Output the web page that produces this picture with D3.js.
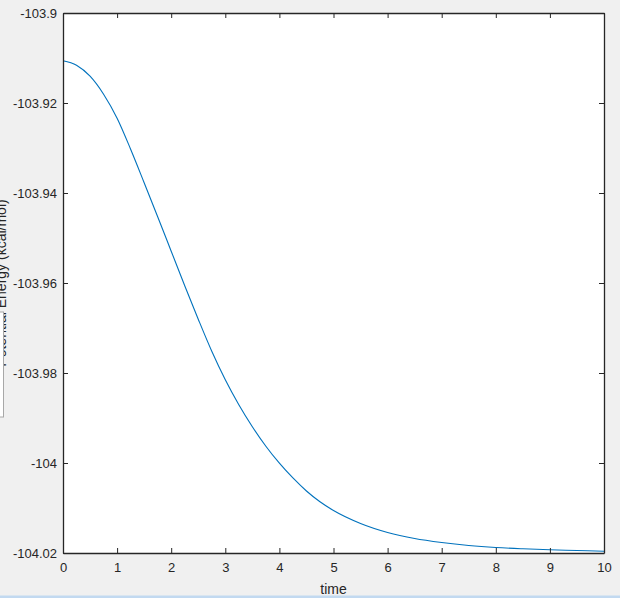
<!DOCTYPE html>
<html>
<head>
<meta charset="utf-8">
<script src="https://cdn.jsdelivr.net/npm/d3@7"></script>
<style>
html,body{margin:0;padding:0;background:#f0f0f0;}
svg{display:block;}
text{font-family:"Liberation Sans",Arial,Helvetica,sans-serif;}
</style>
</head>
<body>
<svg id="chart" width="620" height="598"></svg>
<script>
const timeValues = [0,0.25,0.5,0.75,1,1.25,1.5,1.75,2,2.25,2.5,2.75,3,3.25,3.5,3.75,4,4.25,4.5,4.75,5,5.5,6,6.5,7,7.5,8,8.5,9,9.5,10];
const energyValues = [-103.91060,-103.91160,-103.91404,-103.91804,-103.92338,-103.93027,-103.93771,-103.94527,-103.95293,-103.96060,-103.96804,-103.97516,-103.98149,-103.98704,-103.99193,-103.99627,-104.00004,-104.00333,-104.00622,-104.00862,-104.01056,-104.01344,-104.01544,-104.01678,-104.01767,-104.01833,-104.01878,-104.01907,-104.01929,-104.01944,-104.01960];
const xTicks = [0,1,2,3,4,5,6,7,8,9,10];
const yTicks = [-103.9,-103.92,-103.94,-103.96,-103.98,-104,-104.02];
const yTickLabels = ["-103.9","-103.92","-103.94","-103.96","-103.98","-104","-104.02"];
const xLabel = "time";
const yLabel = "Potential Energy (kcal/mol)";

const svg = d3.select("#chart");
const L = 63, R = 604, T = 13, B = 553;
const axisColor = "#262626";

const x = d3.scaleLinear().domain([0,10]).range([L,R]);
const y = d3.scaleLinear().domain([-104.02,-103.9]).range([B,T]);

// y label (partly outside the window, as in the reference)
svg.append("text")
  .attr("transform", `translate(5.5,${(T+B)/2}) rotate(-90)`)
  .attr("text-anchor","middle")
  .attr("font-size",14)
  .attr("fill",axisColor)
  .text(yLabel);

// small overlay box at left edge
svg.append("rect").attr("x",-1).attr("y",312).attr("width",4.5).attr("height",105)
  .attr("fill","#ffffff").attr("stroke","#a8a8a8").attr("stroke-width",1);

// plot area
svg.append("rect").attr("x",L).attr("y",T).attr("width",R-L).attr("height",B-T).attr("fill","#ffffff");

// line
const line = d3.line().x((d,i)=>x(timeValues[i])).y(d=>y(d)).curve(d3.curveMonotoneX);
svg.append("path").datum(energyValues).attr("d",line)
  .attr("fill","none").attr("stroke","#0072BD").attr("stroke-width",1.1);

// axes
const tickLen = 5;
const xAxisB = d3.axisBottom(x).tickValues(xTicks).tickSizeInner(-tickLen).tickSizeOuter(0).tickPadding(10).tickFormat(d3.format("d"));
const gx = svg.append("g").attr("transform",`translate(0,${B})`).call(xAxisB);
const xAxisT = d3.axisTop(x).tickValues(xTicks).tickSizeInner(-tickLen).tickSizeOuter(0).tickFormat("");
const gxt = svg.append("g").attr("transform",`translate(0,${T})`).call(xAxisT);
const yAxisL = d3.axisLeft(y).tickValues(yTicks).tickSizeInner(-tickLen).tickSizeOuter(0).tickPadding(6).tickFormat((d,i)=>yTickLabels[i]);
const gy = svg.append("g").attr("transform",`translate(${L},0)`).call(yAxisL);
const yAxisR = d3.axisRight(y).tickValues(yTicks).tickSizeInner(-tickLen).tickSizeOuter(0).tickFormat("");
const gyr = svg.append("g").attr("transform",`translate(${R},0)`).call(yAxisR);

[gx,gxt,gy,gyr].forEach(g=>{
  g.selectAll("path.domain").attr("stroke",axisColor).attr("stroke-width",1.3);
  g.selectAll(".tick line").attr("stroke",axisColor).attr("stroke-width",1);
  g.selectAll(".tick text").attr("fill",axisColor).attr("font-size",13).attr("font-family","\"Liberation Sans\",Arial,sans-serif");
});
gy.selectAll(".tick text").attr("x",-6);

// x label
svg.append("text").attr("x",(L+R)/2).attr("y",594)
  .attr("text-anchor","middle").attr("font-size",14).attr("fill",axisColor).text(xLabel);

// bottom blue strip
svg.append("rect").attr("x",0).attr("y",595.5).attr("width",620).attr("height",3).attr("fill","#c2d9f0");
</script>
</body>
</html>
